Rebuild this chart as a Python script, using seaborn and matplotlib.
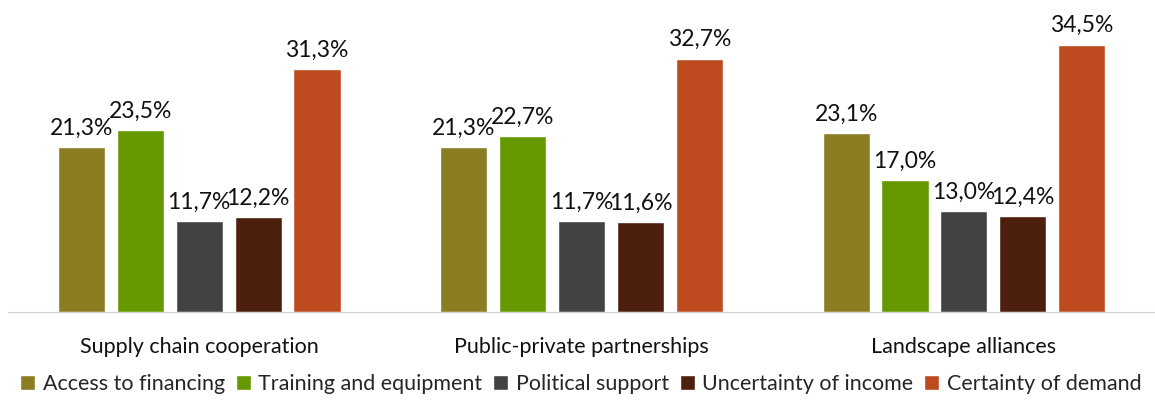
import matplotlib
matplotlib.use("Agg")
import matplotlib.pyplot as plt
import seaborn as sns
import pandas as pd

categories = ["Supply chain cooperation", "Public-private partnerships", "Landscape alliances"]
series = ["Access to financing", "Training and equipment", "Political support",
          "Uncertainty of income", "Certainty of demand"]
access = [21.3, 21.3, 23.1]
training = [23.5, 22.7, 17.0]
political = [11.7, 11.7, 13.0]
uncertainty = [12.2, 11.6, 12.4]
certainty = [31.3, 32.7, 34.5]
colors = ["#8B7D22", "#669900", "#424242", "#4D1F0E", "#BE4B20"]

rows = []
for s, vals in zip(series, [access, training, political, uncertainty, certainty]):
    for c, v in zip(categories, vals):
        rows.append({"category": c, "series": s, "value": v})
df = pd.DataFrame(rows)

sns.set_style("white")
plt.rcParams['font.family'] = ['Lato', 'DejaVu Sans']

fig = plt.figure(figsize=(11.55, 4.0), dpi=100)
ax = fig.add_axes([0.007, 0.22, 0.993, 0.775])
sns.barplot(data=df, x="category", y="value", hue="series", order=categories,
            hue_order=series, palette=colors, width=0.77, gap=0.2,
            saturation=1, ax=ax, legend=True)

for cont in ax.containers:
    labels = [f"{v:.1f}%".replace(".", ",") for v in cont.datavalues]
    ax.bar_label(cont, labels=labels, padding=6, fontsize=16.5, color="#111111")

ax.set_ylim(0, 40)
ax.set_xlim(-0.5, 2.5)
ax.set_xlabel("")
ax.set_ylabel("")
ax.set_yticks([])
for s in ["top", "left", "right"]:
    ax.spines[s].set_visible(False)
ax.spines["bottom"].set_color("#d0d0d0")
ax.tick_params(axis="x", length=0, labelsize=15.5, pad=18, labelcolor="#111111")

handles, labels = ax.get_legend_handles_labels()
ax.legend_.remove()
fig.legend(handles, labels, loc="center", bbox_to_anchor=(0.503, 0.04), ncol=5,
           frameon=False, fontsize=15.5, handlelength=0.7, handleheight=0.7,
           handletextpad=0.35, columnspacing=0.5, borderaxespad=0)

fig.savefig("out.png", dpi=100)
